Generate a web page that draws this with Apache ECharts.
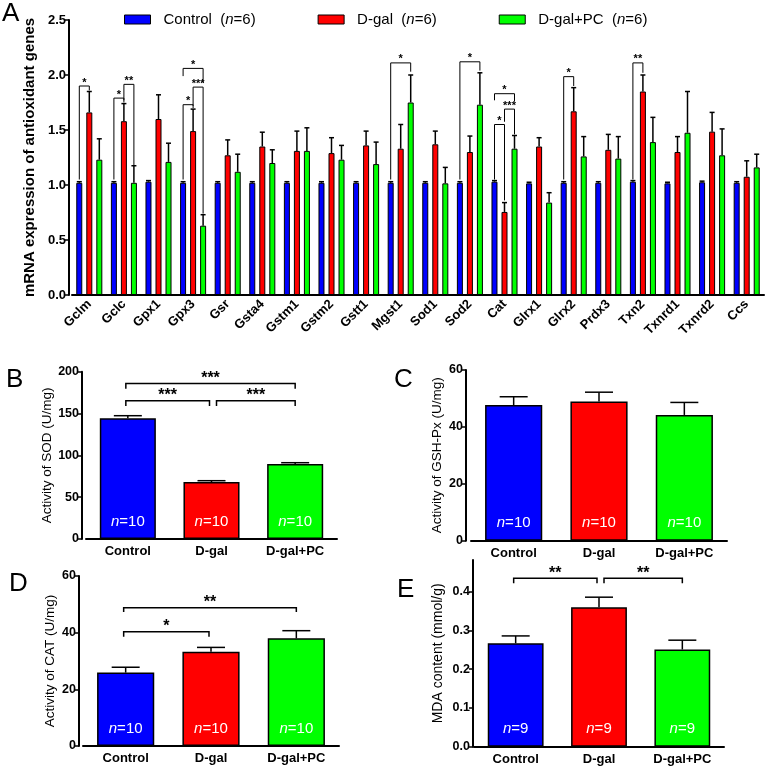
<!DOCTYPE html>
<html>
<head>
<meta charset="utf-8">
<title>Antioxidant genes and enzyme activity</title>
<script src="https://cdn.jsdelivr.net/npm/echarts@6/dist/echarts.min.js"></script>
<style>body{margin:0;background:#fff}#main{width:778px;height:770px}</style>
</head>
<body>
<div id="main"></div>
<script>
// panel A: mRNA expression (mean and upper SEM)
var genes = ['Gclm', 'Gclc', 'Gpx1', 'Gpx3', 'Gsr', 'Gsta4', 'Gstm1', 'Gstm2', 'Gstt1', 'Mgst1',
    'Sod1', 'Sod2', 'Cat', 'Glrx1', 'Glrx2', 'Prdx3', 'Txn2', 'Txnrd1', 'Txnrd2', 'Ccs'];
var ctrlA = [1.02, 1.02, 1.03, 1.02, 1.02, 1.02, 1.02, 1.02, 1.02, 1.02, 1.02, 1.02, 1.03, 1.015, 1.02, 1.02, 1.03, 1.015, 1.025, 1.02];
var ctrlAErr = [0.01, 0.01, 0.01, 0.01, 0.01, 0.01, 0.01, 0.01, 0.01, 0.01, 0.01, 0.01, 0.01, 0.01, 0.01, 0.01, 0.01, 0.01, 0.01, 0.01];
var dgalA = [1.66, 1.58, 1.60, 1.49, 1.27, 1.35, 1.31, 1.29, 1.36, 1.33, 1.37, 1.30, 0.755, 1.35, 1.67, 1.32, 1.85, 1.30, 1.485, 1.075];
var dgalAErr = [0.19, 0.16, 0.22, 0.20, 0.14, 0.13, 0.18, 0.14, 0.13, 0.22, 0.12, 0.145, 0.085, 0.08, 0.215, 0.14, 0.15, 0.14, 0.175, 0.145];
var pcA = [1.23, 1.02, 1.21, 0.63, 1.12, 1.20, 1.31, 1.23, 1.19, 1.75, 1.015, 1.73, 1.33, 0.84, 1.26, 1.24, 1.39, 1.475, 1.27, 1.16];
var pcAErr = [0.19, 0.155, 0.17, 0.10, 0.16, 0.12, 0.21, 0.13, 0.20, 0.25, 0.145, 0.29, 0.12, 0.09, 0.18, 0.20, 0.225, 0.375, 0.24, 0.12];
// [gene, from group, to group, bracket top, left leg end, right leg end, stars]
var sigA = [
    [0, 0, 1, 1.90, 1.05, 1.86, '*'],
    [1, 0, 1, 1.79, 1.05, 1.75, '*'],
    [1, 1, 2, 1.915, 1.77, 1.18, '**'],
    [3, 0, 1, 1.73, 1.05, 1.70, '*'],
    [3, 1, 2, 1.89, 1.72, 0.74, '***'],
    [3, 0, 2, 2.06, 1.99, 1.93, '*'],
    [9, 0, 2, 2.11, 1.05, 2.03, '*'],
    [11, 0, 2, 2.12, 1.05, 2.04, '*'],
    [12, 0, 1, 1.55, 1.05, 0.86, '*'],
    [12, 1, 2, 1.69, 1.575, 1.46, '***'],
    [12, 0, 2, 1.83, 1.77, 1.76, '*'],
    [14, 0, 1, 1.985, 1.05, 1.90, '*'],
    [16, 0, 1, 2.11, 1.05, 2.02, '**']
];

// panels B-E: enzyme activity / MDA
var groups = ['Control', 'D-gal', 'D-gal+PC'];
var sodMean = [144.3, 68.1, 89.6];
var sodErr = [3.1, 1.6, 1.6];
var sodN = [10, 10, 10];
var gshMean = [47.7, 48.9, 44.2];
var gshErr = [2.9, 3.3, 4.4];
var gshN = [10, 10, 10];
var catMean = [25.9, 33.3, 38.0];
var catErr = [1.9, 1.5, 2.7];
var catN = [10, 10, 10];
var mdaMean = [0.267, 0.360, 0.251];
var mdaErr = [0.019, 0.026, 0.024];
var mdaN = [9, 9, 9];
// [from, to, bracket top, leg end, stars]
var sigB = [[0, 1, 165.4, 159, '***'], [1, 2, 165.4, 159, '***'], [0, 2, 186, 179.7, '***']];
var sigD = [[0, 1, 40.3, 38.6, '*'], [0, 2, 48.8, 47.3, '**']];
var sigE = [[0, 1, 0.4346, 0.4217, '**'], [1, 2, 0.4346, 0.4217, '**']];

var FONT = 'Liberation Sans, Arial, sans-serif';
var colors = ['#0000ff', '#ff0000', '#00ff00'];
var barStep = 10;   // px between bar centres in panel A

var myChart = echarts.init(document.getElementById('main'));

function errSeries(ai, means, errs, offset, capW, lw) {
    return {
        type: 'custom', xAxisIndex: ai, yAxisIndex: ai, silent: true, z: 4,
        encode: {x: 0, y: 1},
        renderItem: function (p, api) {
            var b = api.coord([api.value(0), api.value(1)]);
            var t = api.coord([api.value(0), api.value(1) + api.value(2)]);
            var x = b[0] + offset;
            var st = {stroke: '#000', lineWidth: lw};
            return {type: 'group', children: [
                {type: 'line', shape: {x1: x, y1: b[1], x2: x, y2: t[1]}, style: st},
                {type: 'line', shape: {x1: x - capW / 2, y1: t[1], x2: x + capW / 2, y2: t[1]}, style: st}
            ]};
        },
        data: means.map(function (m, i) { return [i, m, errs[i]]; })
    };
}

function bracketA() {
    return {
        type: 'custom', xAxisIndex: 0, yAxisIndex: 0, silent: true, z: 6,
        encode: {x: 0, y: 1},
        renderItem: function (p, api) {
            var s = sigA[p.dataIndex];
            var c = api.coord([s[0], s[3]]);
            var x1 = c[0] + (s[1] - 1) * barStep, x2 = c[0] + (s[2] - 1) * barStep;
            var yl = api.coord([s[0], s[4]])[1], yr = api.coord([s[0], s[5]])[1];
            return {type: 'group', children: [
                {type: 'polyline', shape: {points: [[x1, yl], [x1, c[1]], [x2, c[1]], [x2, yr]]},
                    style: {stroke: '#000', lineWidth: 1, fill: null}},
                {type: 'text', style: {text: s[6], x: (x1 + x2) / 2, y: c[1] - 9, align: 'center',
                    verticalAlign: 'top', font: 'bold 11px ' + FONT, fill: '#000'}}
            ]};
        },
        data: sigA.map(function (s) { return [s[0], s[3]]; })
    };
}

function bracketSeries(ai, sig) {
    return {
        type: 'custom', xAxisIndex: ai, yAxisIndex: ai, silent: true, z: 6,
        encode: {x: 0, y: 1},
        renderItem: function (p, api) {
            var s = sig[p.dataIndex];
            var a = api.coord([s[0], s[2]]), b = api.coord([s[1], s[2]]);
            var x1 = a[0] + (s[0] === 1 ? 5 : -2), x2 = b[0] - (s[1] === 1 ? 2 : 0);
            var yl = api.coord([s[0], s[3]])[1];
            return {type: 'group', children: [
                {type: 'polyline', shape: {points: [[x1, yl], [x1, a[1]], [x2, a[1]], [x2, yl]]},
                    style: {stroke: '#000', lineWidth: 1.5, fill: null}},
                {type: 'text', style: {text: s[4], x: (x1 + x2) / 2, y: a[1] - 13, align: 'center',
                    verticalAlign: 'top', font: 'bold 16px ' + FONT, fill: '#000'}}
            ]};
        },
        data: sig.map(function (s) { return [s[0], s[2]]; })
    };
}

function groupBars(ai, means, ns) {
    return {
        type: 'bar', name: 'grp' + ai, xAxisIndex: ai, yAxisIndex: ai, barWidth: '67%',
        data: means.map(function (v, i) {
            return {value: v, itemStyle: {color: colors[i], borderColor: '#000', borderWidth: 1.5}};
        }),
        label: {
            show: true, position: 'insideBottom', distance: 10,
            formatter: function (p) { return '{i|n}{t|=' + ns[p.dataIndex] + '}'; },
            rich: {
                i: {fontStyle: 'italic', color: '#fff', fontSize: 15, fontFamily: FONT},
                t: {color: '#fff', fontSize: 15, fontFamily: FONT}
            }
        }
    };
}

function catAxis(gi, data, fs, rot) {
    return {
        type: 'category', gridIndex: gi, data: data,
        axisLine: {lineStyle: {color: '#000', width: 2}},
        axisTick: {alignWithLabel: true, length: 4, lineStyle: {color: '#000', width: 1.5}},
        axisLabel: {color: '#000', fontWeight: 'bold', fontSize: fs, fontFamily: FONT, rotate: rot || 0, margin: rot ? 7 : 6}
    };
}

function valAxis(gi, max, step, name, nameGap, offset, dec, nameBold, nameSize, tickSize) {
    return {
        type: 'value', gridIndex: gi, min: 0, max: max, interval: step, offset: offset,
        name: name, nameLocation: 'middle', nameGap: nameGap,
        nameTextStyle: {color: '#000', fontSize: nameSize, fontFamily: FONT, fontWeight: nameBold ? 'bold' : 'normal'},
        splitLine: {show: false},
        axisLine: {show: true, lineStyle: {color: '#000', width: 2}},
        axisTick: {show: true, length: 4, lineStyle: {color: '#000', width: 1.5}},
        axisLabel: {color: '#000', fontWeight: 'bold', fontSize: tickSize, fontFamily: FONT, margin: 3,
            showMaxLabel: max % step < 1e-9 || Math.abs(max % step - step) < 1e-9,
            formatter: function (v) { return dec ? v.toFixed(dec) : String(v); }}
    };
}

function legendName(n) {
    return n + '  ({i|n}=6)';
}

function panelLetter(t, x, y) {
    return {type: 'text', left: x, top: y, style: {text: t, font: '26px ' + FONT, fill: '#000'}};
}

myChart.setOption({
    animation: false,
    textStyle: {fontFamily: FONT},
    legend: {
        left: 119, top: 7, itemWidth: 26, itemHeight: 9, itemGap: 62,
        data: groups, icon: 'rect',
        itemStyle: {borderColor: '#000', borderWidth: 1},
        formatter: legendName,
        textStyle: {fontSize: 15, color: '#000', padding: [0, 0, 0, 8],
            rich: {i: {fontStyle: 'italic', fontSize: 15, color: '#000'}}}
    },
    grid: [
        {left: 72, top: 20, width: 692, height: 275},
        {left: 86, top: 371.7, width: 251, height: 167.3},
        {left: 471, top: 370, width: 256, height: 170.7},
        {left: 83, top: 576, width: 256, height: 170},
        {left: 474, top: 560, width: 250, height: 186.7}
    ],
    xAxis: [
        catAxis(0, genes, 13, 45),
        catAxis(1, groups, 13),
        catAxis(2, groups, 13),
        catAxis(3, groups, 13),
        catAxis(4, groups, 13)
    ],
    yAxis: [
        valAxis(0, 2.5, 0.5, 'mRNA expression of antioxidant genes', 30, 3, 1, true, 15, 13),
        valAxis(1, 200, 50, 'Activity of SOD (U/mg)', 22, 4, 0, false, 13.5, 12.5),
        valAxis(2, 60, 20, 'Activity of GSH-Px (U/mg)', 22, 5, 0, false, 13.5, 12.5),
        valAxis(3, 60, 20, 'Activity of CAT (U/mg)', 22, 4, 0, false, 13.5, 12.5),
        valAxis(4, 0.482, 0.1, 'MDA content (mmol/g)', 28, 1, 1, false, 14, 12.5)
    ],
    graphic: [
        panelLetter('A', 2, 1),
        panelLetter('B', 6, 367),
        panelLetter('C', 394, 367),
        panelLetter('D', 9, 571),
        panelLetter('E', 397, 577)
    ],
    series: [
        {type: 'bar', name: 'Control', data: ctrlA, barWidth: 6, barGap: '67%',
            itemStyle: {color: colors[0], borderColor: '#000', borderWidth: 1}},
        {type: 'bar', name: 'D-gal', data: dgalA, barWidth: 6, barGap: '67%',
            itemStyle: {color: colors[1], borderColor: '#000', borderWidth: 1}},
        {type: 'bar', name: 'D-gal+PC', data: pcA, barWidth: 6, barGap: '67%',
            itemStyle: {color: colors[2], borderColor: '#000', borderWidth: 1}},
        errSeries(0, ctrlA, ctrlAErr, -barStep, 5, 1.5),
        errSeries(0, dgalA, dgalAErr, 0, 5, 1.5),
        errSeries(0, pcA, pcAErr, barStep, 5, 1.5),
        bracketA(),
        groupBars(1, sodMean, sodN),
        errSeries(1, sodMean, sodErr, 0, 28, 1.5),
        bracketSeries(1, sigB),
        groupBars(2, gshMean, gshN),
        errSeries(2, gshMean, gshErr, 0, 28, 1.5),
        groupBars(3, catMean, catN),
        errSeries(3, catMean, catErr, 0, 28, 1.5),
        bracketSeries(3, sigD),
        groupBars(4, mdaMean, mdaN),
        errSeries(4, mdaMean, mdaErr, 0, 28, 1.5),
        bracketSeries(4, sigE)
    ]
});
</script>
</body>
</html>
